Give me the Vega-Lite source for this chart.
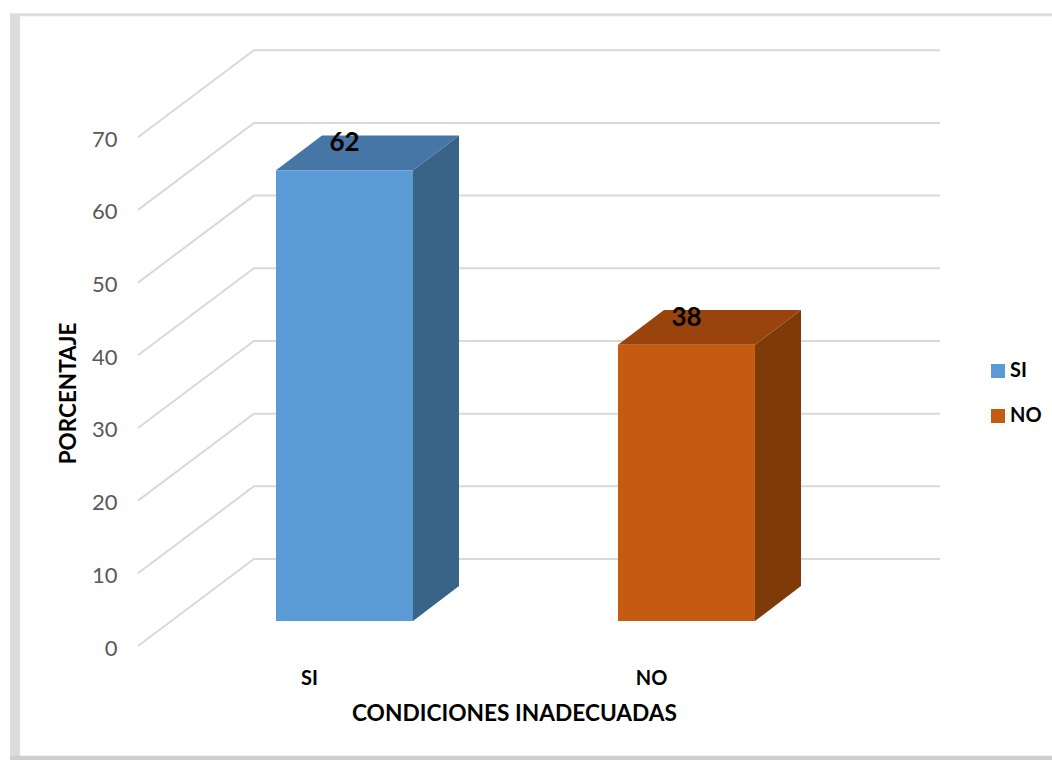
{
  "$schema": "https://vega.github.io/schema/vega-lite/v6.json",
  "width": 802,
  "height": 596,
  "autosize": "none",
  "padding": {"left": 138, "top": 50, "right": 112, "bottom": 114},
  "background": "white",
  "view": {"stroke": null},
  "config": {"font": "Lato"},
  "datasets": {
    "barras": [
      {"categoria": "SI", "valor": 62},
      {"categoria": "NO", "valor": 38}
    ],
    "rejilla": [
      {"valor": 0}, {"valor": 10}, {"valor": 20}, {"valor": 30},
      {"valor": 40}, {"valor": 50}, {"valor": 60}, {"valor": 70}
    ],
    "marco": [{"marco": "borde"}]
  },
  "layer": [
    {
      "data": {"name": "marco"},
      "mark": {"type": "rect", "color": "#dcdcdc", "clip": false},
      "encoding": {
        "x": {"datum": -0.374, "type": "quantitative"},
        "x2": {"datum": -0.345},
        "y": {"datum": 86.9, "type": "quantitative"},
        "y2": {"datum": -15.7}
      }
    },
    {
      "data": {"name": "marco"},
      "mark": {"type": "rect", "color": "#dcdcdc", "clip": false},
      "encoding": {
        "x": {"datum": -0.374, "type": "quantitative"},
        "x2": {"datum": 2.68},
        "y": {"datum": 87.07, "type": "quantitative"},
        "y2": {"datum": 86.66}
      }
    },
    {
      "data": {"name": "marco"},
      "mark": {"type": "rect", "color": "#cfcfcf", "clip": false},
      "encoding": {
        "x": {"datum": -0.374, "type": "quantitative"},
        "x2": {"datum": 2.68},
        "y": {"datum": -15.1, "type": "quantitative"},
        "y2": {"datum": -15.7}
      }
    },
    {
      "data": {"name": "rejilla"},
      "transform": [
        {"calculate": "[0,1,2]", "as": "tramo"},
        {"flatten": ["tramo"]},
        {"calculate": "[0,0.339,2.345][datum.tramo]", "as": "xp"},
        {"calculate": "datum.valor + (datum.tramo > 0 ? 11.97 : 0)", "as": "yp"}
      ],
      "mark": {"type": "line", "color": "#d9d9d9", "strokeWidth": 2, "clip": false},
      "encoding": {
        "detail": {"field": "valor", "type": "quantitative"},
        "x": {
          "field": "xp",
          "type": "quantitative",
          "scale": {"domain": [0, 2.345], "nice": false, "zero": false},
          "axis": {
            "values": [0.5, 1.5],
            "labelExpr": "datum.value < 1 ? 'SI' : 'NO'",
            "domain": false,
            "ticks": false,
            "grid": false,
            "labelFontSize": 20,
            "labelFontWeight": "bold",
            "labelColor": "#000000",
            "labelPadding": 22,
            "labelFlush": false,
            "title": "CONDICIONES INADECUADAS",
            "titleFontSize": 22.7,
            "titleFontWeight": "bold",
            "titleColor": "#000000",
            "titleX": 376,
            "titleY": 56
          }
        },
        "y": {
          "field": "yp",
          "type": "quantitative",
          "scale": {"domain": [0, 82], "nice": false, "zero": false},
          "axis": {
            "values": [0, 10, 20, 30, 40, 50, 60, 70],
            "domain": false,
            "ticks": false,
            "grid": false,
            "labelFontSize": 22,
            "labelColor": "#595959",
            "labelPadding": 21,
            "labelOffset": 2,
            "title": "PORCENTAJE",
            "titleFontSize": 22.5,
            "titleFontWeight": "bold",
            "titleColor": "#000000",
            "titleX": -58,
            "titleY": 343
          }
        }
      }
    },
    {
      "data": {"name": "barras"},
      "transform": [
        {"calculate": "indexof(['SI','NO'], datum.categoria)", "as": "pos"},
        {"calculate": "[0,1]", "as": "d"},
        {"flatten": ["d"]},
        {"calculate": "datum.pos + 0.4035 + 0.4006 + datum.d * 0.1345", "as": "xp"},
        {"calculate": "3.44 + datum.d * 4.8", "as": "yb"},
        {"calculate": "datum.valor + datum.yb", "as": "yt"}
      ],
      "mark": {"type": "area", "orient": "vertical", "clip": false},
      "encoding": {
        "detail": {"field": "categoria"},
        "x": {"field": "xp", "type": "quantitative"},
        "y": {"field": "yb", "type": "quantitative"},
        "y2": {"field": "yt"},
        "fill": {"condition": {"test": "datum.categoria === 'SI'", "value": "#396387"}, "value": "#7f3a09"}
      }
    },
    {
      "data": {"name": "barras"},
      "transform": [
        {"calculate": "indexof(['SI','NO'], datum.categoria)", "as": "pos"},
        {"calculate": "[0,1]", "as": "d"},
        {"flatten": ["d"]},
        {"calculate": "datum.pos + 0.4035 + datum.d * 0.1345", "as": "xa"},
        {"calculate": "datum.xa + 0.4006", "as": "xb"},
        {"calculate": "datum.valor + 3.44 + datum.d * 4.8", "as": "yt"}
      ],
      "mark": {"type": "area", "orient": "horizontal", "clip": false},
      "encoding": {
        "detail": {"field": "categoria"},
        "y": {"field": "yt", "type": "quantitative"},
        "x": {"field": "xa", "type": "quantitative"},
        "x2": {"field": "xb"},
        "fill": {"condition": {"test": "datum.categoria === 'SI'", "value": "#4676a6"}, "value": "#98440c"}
      }
    },
    {
      "data": {"name": "barras"},
      "transform": [
        {"calculate": "indexof(['SI','NO'], datum.categoria)", "as": "pos"},
        {"calculate": "datum.pos + 0.4035", "as": "xa"},
        {"calculate": "datum.xa + 0.4006", "as": "xb"},
        {"calculate": "3.44", "as": "yb"},
        {"calculate": "datum.valor + 3.44", "as": "yt"}
      ],
      "mark": {"type": "bar", "clip": false},
      "encoding": {
        "x": {"field": "xa", "type": "quantitative"},
        "x2": {"field": "xb"},
        "y": {"field": "yb", "type": "quantitative"},
        "y2": {"field": "yt"},
        "color": {
          "field": "categoria",
          "type": "nominal",
          "scale": {"domain": ["SI", "NO"], "range": ["#5b9bd5", "#c55a11"]},
          "legend": {
            "orient": "none",
            "legendX": 850,
            "legendY": 311,
            "title": null,
            "symbolType": "square",
            "symbolSize": 196,
            "symbolStrokeWidth": 0,
            "symbolOpacity": 1,
            "labelFontSize": 20,
            "labelFontWeight": "bold",
            "labelColor": "#000000",
            "labelOffset": 2,
            "rowPadding": 25
          }
        }
      }
    },
    {
      "data": {"name": "barras"},
      "transform": [
        {"calculate": "indexof(['SI','NO'], datum.categoria)", "as": "pos"},
        {"calculate": "datum.pos + 0.4035 + 0.2003", "as": "xc"},
        {"calculate": "datum.valor + 3.44 + 3.75", "as": "yc"}
      ],
      "mark": {"type": "text", "fontSize": 26, "fontWeight": "bold", "color": "#000000", "baseline": "middle", "align": "center", "clip": false},
      "encoding": {
        "x": {"field": "xc", "type": "quantitative"},
        "y": {"field": "yc", "type": "quantitative"},
        "text": {"field": "valor", "type": "quantitative"}
      }
    }
  ]
}
